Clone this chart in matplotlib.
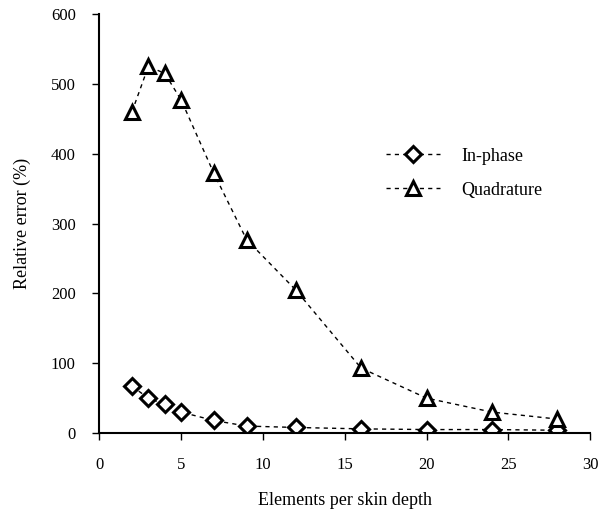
import numpy as np
import matplotlib
matplotlib.use("Agg")
import matplotlib.pyplot as plt

plt.rcParams['font.family'] = ['Liberation Serif', 'DejaVu Serif']

elements = [2, 3, 4, 5, 7, 9, 12, 16, 20, 24, 28]
in_phase = [67, 50, 41, 30, 18, 10, 8, 6, 5, 5, 4]
quadrature = [460, 525, 515, 477, 372, 277, 205, 93, 50, 30, 20]

fig = plt.figure(figsize=(5.98, 5.18), dpi=100)
ax = fig.add_axes([0.166, 0.164, 0.821, 0.809])

ax.plot(elements, in_phase, linestyle=(0, (3, 3)), color='black', linewidth=1,
        marker='D', markersize=8, markerfacecolor='white', markeredgecolor='black',
        markeredgewidth=2.2, label='In-phase')
ax.plot(elements, quadrature, linestyle=(0, (3, 3)), color='black', linewidth=1,
        marker='^', markersize=10, markerfacecolor='white', markeredgecolor='black',
        markeredgewidth=2.2, label='Quadrature')

ax.set_xlim(0, 30)
ax.set_ylim(0, 600)
ax.set_xticks([0, 5, 10, 15, 20, 25, 30])
ax.set_yticks([0, 100, 200, 300, 400, 500, 600])
ax.spines['top'].set_visible(False)
ax.spines['right'].set_visible(False)
ax.spines['left'].set_linewidth(1.5)
ax.spines['bottom'].set_linewidth(1.5)
ax.tick_params(direction='out', length=5, width=1, labelsize=12, pad=12)

ax.set_xlabel('Elements per skin depth', fontsize=13, labelpad=14)
ax.set_ylabel('Relative error (%)', fontsize=13, labelpad=14)

ax.legend(loc='upper left', bbox_to_anchor=(0.55, 0.72), frameon=False,
          fontsize=13, handlelength=3, handletextpad=1.2, labelspacing=0.95)

fig.savefig('out.png', dpi=100)
